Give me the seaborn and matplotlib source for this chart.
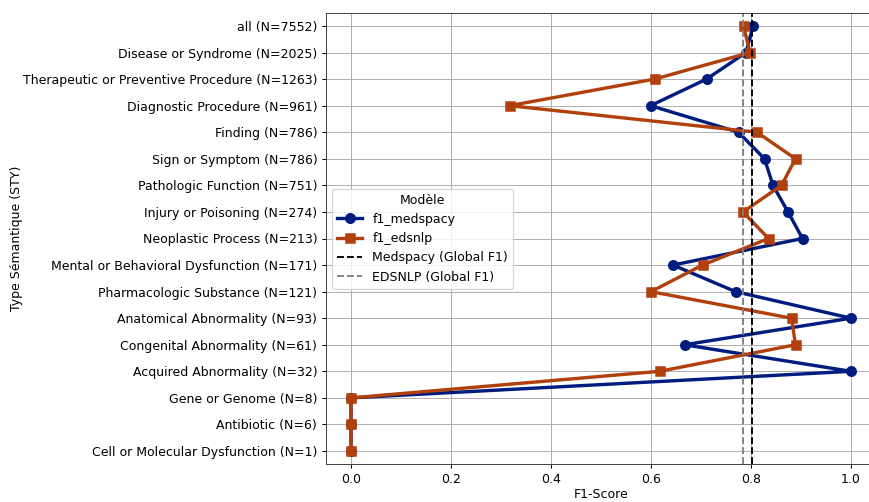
import numpy as np
import pandas as pd
import matplotlib
matplotlib.use('Agg')
import matplotlib.pyplot as plt
import seaborn as sns

# semantic types, in plotting order (top to bottom)
categories = [
    'all (N=7552)',
    'Disease or Syndrome (N=2025)',
    'Therapeutic or Preventive Procedure (N=1263)',
    'Diagnostic Procedure (N=961)',
    'Finding (N=786)',
    'Sign or Symptom (N=786)',
    'Pathologic Function (N=751)',
    'Injury or Poisoning (N=274)',
    'Neoplastic Process (N=213)',
    'Mental or Behavioral Dysfunction (N=171)',
    'Pharmacologic Substance (N=121)',
    'Anatomical Abnormality (N=93)',
    'Congenital Abnormality (N=61)',
    'Acquired Abnormality (N=32)',
    'Gene or Genome (N=8)',
    'Antibiotic (N=6)',
    'Cell or Molecular Dysfunction (N=1)',
]
f1_medspacy = [0.804, 0.790, 0.711, 0.599, 0.775, 0.827, 0.844, 0.874, 0.903,
               0.644, 0.769, 1.0, 0.667, 1.0, 0.0, 0.0, 0.0]
f1_edsnlp = [0.785, 0.798, 0.607, 0.317, 0.812, 0.889, 0.861, 0.784, 0.835,
             0.703, 0.600, 0.881, 0.889, 0.617, 0.0, 0.0, 0.0]
global_medspacy = 0.802
global_edsnlp = 0.784

df = pd.DataFrame({'sty': categories, 'f1_medspacy': f1_medspacy, 'f1_edsnlp': f1_edsnlp})
long = df.melt(id_vars='sty', var_name='Modèle', value_name='F1-Score')

# the original was rendered at ~90 dpi and cropped on the right
DPI = 90
fig = plt.figure(figsize=(869 / DPI, 502 / DPI), dpi=DPI)
ax = fig.add_axes([326 / 869, 1 - 464.3 / 502, 550 / 869, (464.3 - 12.7) / 502])

sns.pointplot(data=long, x='F1-Score', y='sty', hue='Modèle', order=categories,
              palette=['#001c7f', '#b1400d'], markers=['o', 's'], linestyles=['-', '-'],
              orient='h', ax=ax)

ax.axvline(global_medspacy, color='black', linestyle='--', linewidth=1.5, label='Medspacy (Global F1)')
ax.axvline(global_edsnlp, color='gray', linestyle='--', linewidth=1.5, label='EDSNLP (Global F1)')

ax.set_xlim(-0.05, 1.05)
ax.set_xticks([0.0, 0.2, 0.4, 0.6, 0.8, 1.0])
ax.grid(True, color='#b0b0b0', linewidth=0.8)
ax.set_axisbelow(True)
for s in ax.spines.values():
    s.set_color('#444444')
ax.set_xlabel('F1-Score', labelpad=1.5)
ax.set_ylabel('Type Sémantique (STY)', labelpad=0)
ax.legend(title='Modèle', loc='center left')

fig.savefig('out.png', dpi=DPI)
